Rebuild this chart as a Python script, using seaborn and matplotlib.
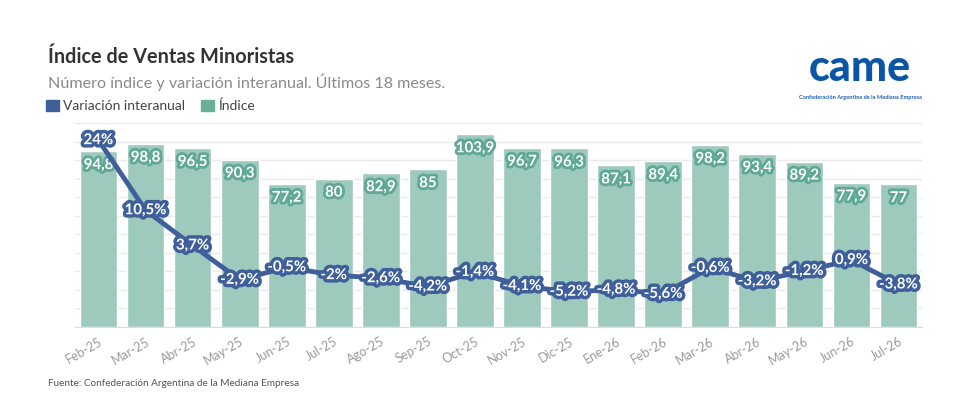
import numpy as np
import matplotlib
matplotlib.use("Agg")
import matplotlib.pyplot as plt
import matplotlib.patheffects as pe
from matplotlib.patches import Patch
import seaborn as sns

meses = ["Feb-25", "Mar-25", "Abr-25", "May-25", "Jun-25", "Jul-25", "Ago-25", "Sep-25", "Oct-25",
         "Nov-25", "Dic-25", "Ene-26", "Feb-26", "Mar-26", "Abr-26", "May-26", "Jun-26", "Jul-26"]
indice = [94.8, 98.8, 96.5, 90.3, 77.2, 80, 82.9, 85, 103.9,
          96.7, 96.3, 87.1, 89.4, 98.2, 93.4, 89.2, 77.9, 77]
variacion = [24, 10.5, 3.7, -2.9, -0.5, -2, -2.6, -4.2, -1.4,
             -4.1, -5.2, -4.8, -5.6, -0.6, -3.2, -1.2, 0.9, -3.8]

verde = "#9ecabe"
verde_osc = "#5fa896"
azul = "#3f5f9b"

sns.set_style("white")
plt.rcParams["font.family"] = ["Lato", "DejaVu Sans"]


def fmt(v):
    s = f"{v:g}"
    return s.replace(".", ",")


fig = plt.figure(figsize=(9.79, 4.01), dpi=100)
ax = fig.add_axes([0.0766, 0.1845, 0.8652, 0.5087])

sns.barplot(x=meses, y=indice, color=verde, saturation=1, width=0.8, ax=ax)
ax.set_ylim(0, 110)
ax.set_yticks(range(0, 111, 10))
ax.set_yticklabels([])
ax.tick_params(axis="y", length=0)
ax.yaxis.grid(True, color="#eaeaea", linewidth=1)
ax.set_axisbelow(True)
for s in ["top", "right", "left"]:
    ax.spines[s].set_visible(False)
ax.spines["bottom"].set_color("#dcdcdc")
ax.set_xlabel("")
ax.set_ylabel("")
ax.tick_params(axis="x", length=4, color="#dcdcdc", labelcolor="#9a9a9a", labelsize=9, pad=2)
plt.setp(ax.get_xticklabels(), rotation=30, ha="right", rotation_mode="anchor")

for i, v in enumerate(indice):
    ax.annotate(fmt(v), (i, v), xytext=(0, -10), textcoords="offset points",
                ha="center", va="center", color="white", fontsize=10.8, fontweight="bold",
                path_effects=[pe.withStroke(linewidth=4, foreground=verde_osc)])

ax2 = ax.twinx()
sns.lineplot(x=np.arange(len(meses)), y=variacion, color=azul, linewidth=3.5, ax=ax2)
ax2.set_ylim(-12, 27.3)
ax2.set_yticks([])
ax2.set_ylabel("")
for s in ax2.spines.values():
    s.set_visible(False)
for i, v in enumerate(variacion):
    ax2.text(i, v, fmt(v) + "%", ha="center", va="center", color="white", fontsize=10.8,
             fontweight="bold", zorder=5,
             path_effects=[pe.withStroke(linewidth=5, foreground=azul)])
ax.set_xlim(-0.5, len(meses) - 0.5)

fig.text(0.049, 0.858, "Índice de Ventas Minoristas", fontsize=14.3, fontweight="bold",
         color="#333333", va="center")
fig.text(0.049, 0.7955, "Número índice y variación interanual. Últimos 18 meses.",
         fontsize=11.6, color="#8a8a8a", va="center")
handles = [Patch(color=azul), Patch(color="#6aae9c")]
fig.legend(handles, ["Variación interanual", "Índice"], loc="center left",
           bbox_to_anchor=(0.047, 0.736), ncol=2, frameon=False, handlelength=0.9,
           handleheight=0.9, handletextpad=0.3, columnspacing=1.2, borderaxespad=0,
           borderpad=0, fontsize=10, labelcolor="#444444")
fig.text(0.049, 0.0424, "Fuente: Confederación Argentina de la Mediana Empresa",
         fontsize=7.2, color="#555555", va="center")

fig.text(0.878, 0.83, "came", fontsize=31, fontweight="black", color="#0b55a6",
         ha="center", va="center")
fig.text(0.8785, 0.756, "Confederación Argentina de la Mediana Empresa", fontsize=4.1,
         fontweight="bold", color="#1f5fae", ha="center", va="center")

fig.savefig("out.png", dpi=100)
